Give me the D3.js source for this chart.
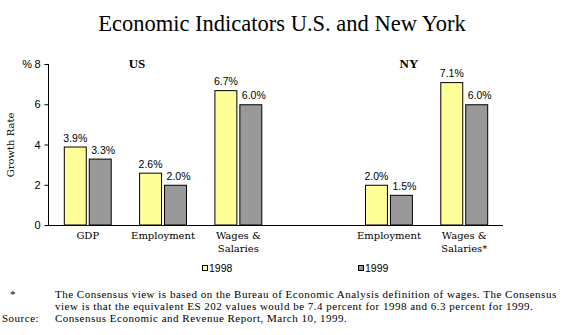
<!DOCTYPE html>
<html><head><meta charset="utf-8">
<script src="https://cdn.jsdelivr.net/npm/d3@7"></script>
<style>body{margin:0;background:#fff}svg{display:block}</style>
</head><body>
<svg id="c" width="564" height="335"></svg>
<script>
const categories = ["US-GDP","US-Employment","US-Wages","NY-GDP","NY-Employment","NY-Wages"];
const categoryLabels = [["GDP"],["Employment"],["Wages &","Salaries"],[],["Employment"],["Wages &","Salaries*"]];
const series = ["1998","1999"];
const values1998 = [3.9, 2.6, 6.7, null, 2.0, 7.1];
const values1999 = [3.3, 2.0, 6.0, null, 1.5, 6.0];
const yTicks = [0,2,4,6,8];
const colors = ["#FFFF99","#999999"];
const title = "Economic Indicators U.S. and New York";
const footnotes = [
  ["*","The Consensus view is based on the Bureau of Economic Analysis definition of wages. The Consensus"],
  ["","view is that the equivalent ES 202 values would be 7.4 percent for 1998 and 6.3 percent for 1999."],
  ["Source:","Consensus Economic and Revenue Report, March 10, 1999."]
];

const svg = d3.select("#c");
const serif = "'Liberation Serif', 'Times New Roman', serif";
const dserif = "'DejaVu Serif', serif";
const sans = "'Liberation Sans', Arial, sans-serif";

const x0 = d3.scaleBand().domain(categories).range([48, 504]).paddingInner(0.364).paddingOuter(0.21);
const x1 = d3.scaleBand().domain(series).range([0, x0.bandwidth()]).paddingInner(0.08);
const y = d3.scaleLinear().domain([0, 8]).range([225, 64]);

svg.append("text").attr("x", 282).attr("y", 31).attr("text-anchor","middle")
  .style("font-family", serif).style("font-size","22.5px").text(title);

// bars
const data = categories.map((c,i)=>({c, vals:[values1998[i], values1999[i]]}));
const g = svg.append("g");
data.forEach(d=>{
  d.vals.forEach((v,j)=>{
    if (v==null) return;
    const bx = x0(d.c) + x1(series[j]);
    g.append("rect").attr("x", bx+0.5).attr("y", y(v)+0.5)
      .attr("width", x1.bandwidth()-1).attr("height", y(0)-y(v)-0.5)
      .attr("fill", colors[j]).attr("stroke","#000").attr("stroke-width",1);
    g.append("text").attr("x", bx + x1.bandwidth()/2 + (j===1?3:0)).attr("y", y(v)-5)
      .attr("text-anchor","middle").style("font-family", sans).style("font-size","10.5px")
      .text(v.toFixed(1)+"%");
  });
});

// axes
const yAxis = d3.axisLeft(y).tickValues(yTicks).tickSize(4).tickPadding(4).tickFormat(d3.format("d"));
const ya = svg.append("g").attr("transform","translate(48.5,0)").call(yAxis);
ya.select(".domain").attr("d", `M0,${y(8)}V${y(0)+0.5}`);
ya.selectAll("text").style("font-family", sans).style("font-size","11px");
svg.append("line").attr("x1",48).attr("x2",503).attr("y1",225.5).attr("y2",225.5).attr("stroke","#000");
svg.append("text").attr("x", 32).attr("y", y(8)+4).attr("text-anchor","end")
  .style("font-family", sans).style("font-size","11px").text("%");

svg.append("text").attr("transform","translate(14,145) rotate(-90)").attr("text-anchor","middle")
  .style("font-family", dserif).style("font-size","10px").text("Growth Rate");

// category labels
categories.forEach((c,i)=>{
  categoryLabels[i].forEach((t,k)=>{
    svg.append("text").attr("x", x0(c)+x0.bandwidth()/2).attr("y", 239 + k*13)
      .attr("text-anchor","middle").style("font-family", dserif).style("font-size","10px").text(t);
  });
});

// group labels
svg.append("text").attr("x", 137).attr("y", 68).attr("text-anchor","middle")
  .style("font-family", serif).style("font-weight","bold").style("font-size","13px").text("US");
svg.append("text").attr("x", 409).attr("y", 68).attr("text-anchor","middle")
  .style("font-family", serif).style("font-weight","bold").style("font-size","13px").text("NY");

// legend
const legendX = [202, 358];
series.forEach((s,j)=>{
  svg.append("rect").attr("x", legendX[j]+0.5).attr("y", 265.5).attr("width",5).attr("height",5)
    .attr("fill", colors[j]).attr("stroke","#000");
  svg.append("text").attr("x", legendX[j]+7).attr("y", 272).style("font-family", sans)
    .style("font-size","10.5px").text(s);
});

// footnotes
footnotes.forEach((f,i)=>{
  svg.append("text").attr("x", f[0]==="*"?10:2).attr("y", 298+i*12).style("font-family", serif)
    .style("font-size","11px").style("letter-spacing","0.5px").text(f[0]);
  svg.append("text").attr("x", 55).attr("y", 298+i*12).style("font-family", serif)
    .style("font-size","11px").style("letter-spacing","0.5px").text(f[1]);
});
</script>
</body></html>
